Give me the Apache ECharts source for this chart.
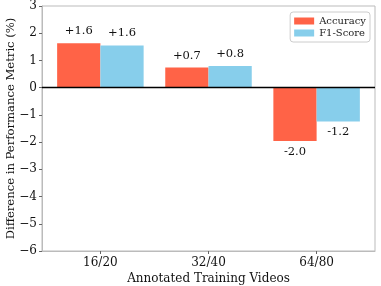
<!DOCTYPE html>
<html>
<head>
<meta charset="utf-8">
<script src="https://cdn.jsdelivr.net/npm/echarts@6/dist/echarts.min.js"></script>
<style>html,body{margin:0;padding:0;background:#fff}#c{width:381px;height:286px}</style>
</head>
<body>
<div id="c"></div>
<script>
var categories = ["16/20", "32/40", "64/80"];
var accuracy = [1.63, 0.74, -1.96];
var f1Score = [1.55, 0.80, -1.24];

var FONT = 'DejaVu Serif';
var barW = 0.4;          // bar width in category units
var gapPos = 6;          // px between positive bar top and label
var gapNeg = 5;          // px between negative bar bottom and label

function fmt(v) { return (v > 0 ? '+' : '') + v.toFixed(1); }
function mk(vals, off) {
  return vals.map(function (v, i) { return [i + off, v]; });
}
function renderBar(color) {
  return function (params, api) {
    var x = api.value(0), v = api.value(1);
    var p0 = api.coord([x - barW / 2, 0]);
    var p1 = api.coord([x + barW / 2, v]);
    var top = Math.min(p0[1], p1[1]), h = Math.abs(p1[1] - p0[1]);
    var cx = (p0[0] + p1[0]) / 2;
    return {
      type: 'group',
      children: [
        { type: 'rect', shape: { x: p0[0], y: top, width: p1[0] - p0[0], height: h },
          style: { fill: color } },
        { type: 'text', x: cx, y: v >= 0 ? p1[1] - gapPos : p1[1] + gapNeg,
          style: { text: fmt(v), fill: '#111', font: '11.5px "' + FONT + '"',
            align: 'center', verticalAlign: v >= 0 ? 'bottom' : 'top' } }
      ]
    };
  };
}

var chart = echarts.init(document.getElementById('c'), null, { renderer: 'canvas' });
chart.setOption({
  animation: false,
  textStyle: { fontFamily: FONT },
  grid: { left: 42, right: 6, top: 6, bottom: 35, outerBoundsMode: 'none', containLabel: false,
    show: true, borderColor: '#bbbbbb', borderWidth: 1 },
  legend: {
    orient: 'vertical', right: 11, top: 12,
    padding: [4, 4, 4, 4], itemGap: 2, itemWidth: 20, itemHeight: 7,
    borderColor: '#cccccc', borderWidth: 1, borderRadius: 3,
    icon: 'rect',
    textStyle: { fontFamily: FONT, fontSize: 10, color: '#222' },
    data: ['Accuracy', 'F1-Score']
  },
  xAxis: {
    type: 'value', min: -0.54, max: 2.54,
    name: 'Annotated Training Videos', nameLocation: 'middle', nameGap: 22, nameMoveOverlap: false,
    nameTextStyle: { fontFamily: FONT, fontSize: 12, color: '#111' },
    axisLine: { show: true, onZero: false, lineStyle: { color: '#bbbbbb', width: 1 } },
    axisTick: { show: true, length: 3, customValues: [0, 1, 2], lineStyle: { color: '#666' } },
    axisLabel: {
      customValues: [0, 1, 2], margin: 6,
      fontFamily: FONT, fontSize: 12, color: '#111',
      formatter: function (v) { return categories[Math.round(v)]; }
    },
    splitLine: { show: false }
  },
  yAxis: {
    type: 'value', min: -6, max: 3, interval: 1,
    name: 'Difference in Performance Metric (%)', nameLocation: 'middle', nameGap: 25, nameMoveOverlap: false,
    nameTextStyle: { fontFamily: FONT, fontSize: 11.6, color: '#111' },
    axisLine: { show: true, onZero: false, lineStyle: { color: '#bbbbbb', width: 1 } },
    axisTick: { show: true, length: 3, lineStyle: { color: '#666' } },
    axisLabel: {
      margin: 5, fontFamily: FONT, fontSize: 12, color: '#111',
      formatter: function (v) { return String(v).replace('-', '\u2212'); }
    },
    splitLine: { show: false }
  },
  series: [
    {
      name: 'Accuracy', type: 'custom', renderItem: renderBar('#FF6347'),
      itemStyle: { color: '#FF6347' },
      encode: { x: 0, y: 1 },
      data: mk(accuracy, -barW / 2),
      markLine: {
        silent: true, symbol: 'none', label: { show: false },
        lineStyle: { color: '#000', width: 1.3, type: 'solid' },
        data: [{ yAxis: 0 }]
      }
    },
    {
      name: 'F1-Score', type: 'custom', renderItem: renderBar('#87CEEB'),
      itemStyle: { color: '#87CEEB' },
      encode: { x: 0, y: 1 },
      data: mk(f1Score, barW / 2)
    }
  ]
});
</script>
</body>
</html>
